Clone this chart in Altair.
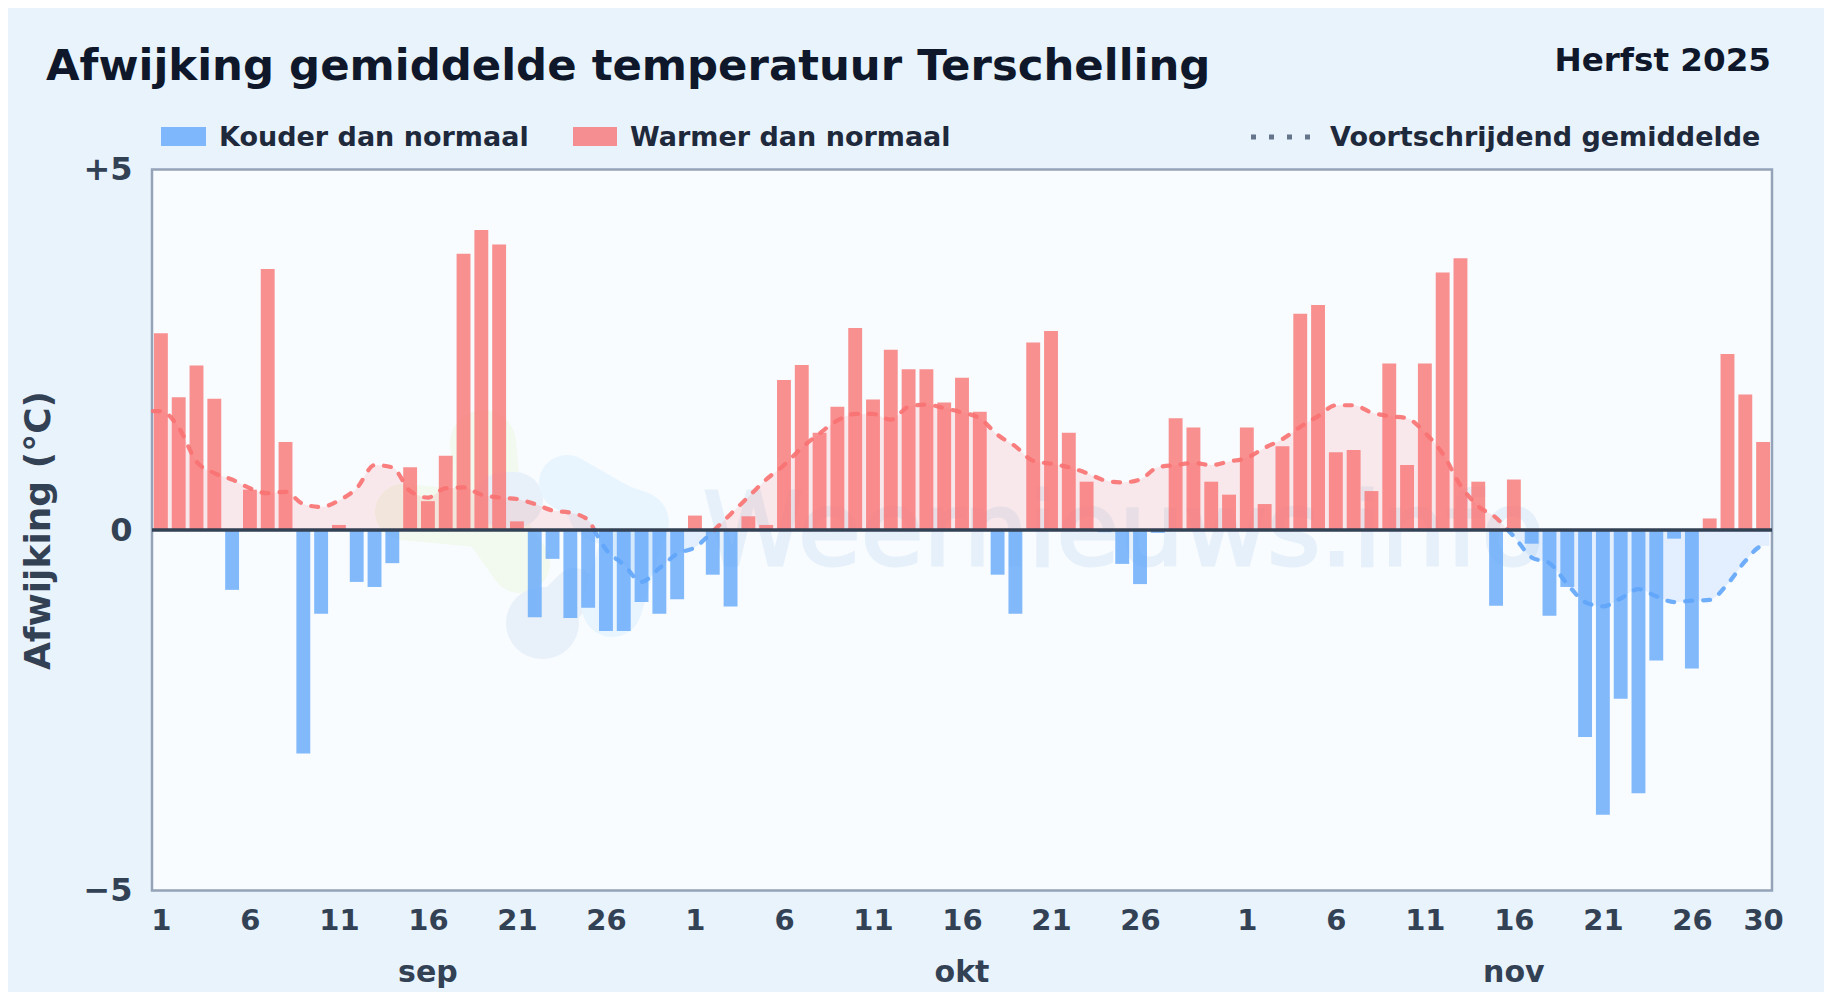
import altair as alt
import pandas as pd

# ---- values -----------------------------------------------------------------
sep_dev = [2.73, 1.84, 2.28, 1.82, -0.83, 0.56, 3.62, 1.22, -3.10, -1.16,
           0.07, -0.72, -0.79, -0.46, 0.87, 0.40, 1.03, 3.83, 4.16, 3.96,
           0.12, -1.21, -0.40, -1.22, -1.08, -1.40, -1.40, -1.00, -1.16, -0.96]
oct_dev = [0.20, -0.62, -1.06, 0.19, 0.07, 2.08, 2.29, 1.35, 1.71, 2.80,
           1.81, 2.50, 2.23, 2.23, 1.77, 2.11, 1.64, -0.62, -1.16, 2.60,
           2.76, 1.35, 0.67, -0.03, -0.47, -0.75, -0.04, 1.55, 1.42, 0.67, 0.49]
nov_dev = [1.42, 0.36, 1.16, 3.00, 3.12, 1.08, 1.11, 0.54, 2.31, 0.90,
           2.31, 3.57, 3.77, 0.67, -1.05, 0.70, -0.19, -1.19, -0.79, -2.87,
           -3.95, -2.34, -3.65, -1.81, -0.12, -1.92, 0.16, 2.44, 1.88, 1.22]

sep_avg = [1.65, 1.42, 0.95, 0.79, 0.70, 0.58, 0.51, 0.53, 0.36, 0.32,
           0.41, 0.58, 0.90, 0.87, 0.54, 0.45, 0.58, 0.59, 0.49, 0.45,
           0.43, 0.36, 0.27, 0.24, 0.14, -0.27, -0.48, -0.72, -0.53, -0.33]
oct_avg = [-0.24, -0.02, 0.22, 0.46, 0.70, 0.90, 1.14, 1.34, 1.52, 1.61,
           1.61, 1.53, 1.71, 1.74, 1.69, 1.63, 1.55, 1.32, 1.16, 0.96,
           0.92, 0.87, 0.79, 0.69, 0.66, 0.70, 0.87, 0.90, 0.93, 0.90, 0.95]
nov_avg = [1.00, 1.14, 1.26, 1.43, 1.58, 1.73, 1.73, 1.63, 1.58, 1.55,
           1.35, 1.06, 0.62, 0.33, 0.17, -0.09, -0.38, -0.46, -0.75, -1.00,
           -1.06, -0.95, -0.82, -0.92, -1.00, -0.98, -0.97, -0.75, -0.43, -0.22]

tick_pos = [0, 5, 10, 15, 20, 25, 30, 35, 40, 45, 50, 55,
            61, 66, 71, 76, 81, 86, 90]
tick_txt = ["1", "6", "11", "16", "21", "26", "1", "6", "11", "16", "21", "26",
            "1", "6", "11", "16", "21", "26", "30"]
months = ["sep", "okt", "nov"]
month_pos = [15, 45, 76]

BG, PLOT = "#e8f3fc", "#f8fcff"
RED, BLUE = "#f87171", "#60a5fa"
W, H = 1620, 721
LEFT, TOP = 152, 169.5

deviation = sep_dev + oct_dev + nov_dev
average = sep_avg + oct_avg + nov_avg

bars = pd.DataFrame({"i": range(len(deviation)), "v": deviation})
bars["a"] = bars.i - 0.39
bars["b"] = bars.i + 0.39
bars["kind"] = ["warm" if v > 0 else "cold" for v in bars.v]

# split the running mean where it crosses zero so each part gets its colour
pts, seg = [], 0
xs = [-0.45] + list(range(len(average))) + [90.35]
ys = [average[0]] + average + [average[-1]]
for k, (x, y) in enumerate(zip(xs, ys)):
    if k and (ys[k - 1] > 0) != (y > 0):
        cx = xs[k - 1] + (x - xs[k - 1]) * ys[k - 1] / (ys[k - 1] - y)
        pts.append((cx, 0.0, seg))
        seg += 1
        pts.append((cx, 0.0, seg))
    pts.append((x, y, seg))
avg = pd.DataFrame(pts, columns=["i", "v", "seg"])
avg["kind"] = avg.groupby("seg").v.transform(lambda s: "warm" if s.sum() > 0 else "cold")

x_scale = alt.Scale(domain=[-0.5, 90.5], range=[0, W], nice=False, zero=False)
y_scale = alt.Scale(domain=[-5, 5], nice=False)
colors = alt.Scale(domain=["warm", "cold"], range=[RED, BLUE])
label_expr = "%s[indexof(%s, datum.value)]" % (tick_txt, tick_pos)

font = "DejaVu Sans"
one = pd.DataFrame({"t": [0]})

x_axis = alt.Axis(values=tick_pos, labelExpr=label_expr, title=None, grid=False,
                  domain=False, ticks=False, labelFont=font, labelFontWeight="bold",
                  labelFontSize=29, labelColor="#334155", labelPadding=16,
                  labelBound=False, labelFlush=False, labelOverlap=False)
y_axis = alt.Axis(values=[-5, 0, 5], title="Afwijking (°C)", grid=False, domain=False,
                  ticks=False,
                  labelExpr="datum.value > 0 ? '+5' : datum.value < 0 ? '−5' : '0'",
                  labelFont=font, labelFontWeight="bold", labelFontSize=32,
                  labelColor="#334155", labelPadding=20, titleFont=font,
                  titleFontWeight="bold", titleFontSize=36, titleColor="#334155",
                  titleX=57 - LEFT, titleY=H / 2)


# ---- faint site watermark behind the data ------------------------------------
def capsule(x1, y1, x2, y2, w, color):
    return alt.Chart(one).mark_rule(strokeCap="round", color=color, strokeWidth=w).encode(
        x=alt.value(x1 - LEFT), x2=alt.value(x2 - LEFT),
        y=alt.value(y1 - TOP), y2=alt.value(y2 - TOP))


GREEN_WM, SKY_WM, GREY_WM = "#f2f9ee", "#e8f5fe", "#e8f0f9"
logo_marks = [
    capsule(483, 443, 490, 520, 66, GREEN_WM),
    capsule(403, 512, 490, 520, 56, GREEN_WM),
    capsule(490, 520, 520, 563, 60, GREEN_WM),
    capsule(503, 500, 515, 500, 56, GREY_WM),
    capsule(542, 623, 575, 590, 44, GREY_WM),
    capsule(542, 623, 543, 623, 72, GREY_WM),
    capsule(567, 483, 637, 523, 56, SKY_WM),
    capsule(600, 510, 637, 523, 64, SKY_WM),
    capsule(637, 523, 612, 607, 60, SKY_WM),
]
wm = alt.Chart(pd.DataFrame({"t": ["Weernieuws.info"]})).mark_text(
    font=font, fontSize=102, align="left", baseline="alphabetic", color="#e6f0fa",
    stroke="#e6f0fa", strokeWidth=3
).encode(x=alt.value(703 - LEFT), y=alt.value(565 - TOP), text="t:N")

# ---- data layers -------------------------------------------------------------
bar = alt.Chart(bars).mark_rect(opacity=0.78).encode(
    x=alt.X("a:Q", scale=x_scale, axis=x_axis),
    x2="b:Q",
    y=alt.Y("v:Q", scale=y_scale, axis=y_axis),
    y2=alt.datum(0),
    color=alt.Color("kind:N", scale=colors, legend=None),
)
area = alt.Chart(avg).mark_area(opacity=0.14, interpolate="monotone").encode(
    x=alt.X("i:Q", scale=x_scale, axis=x_axis),
    y=alt.Y("v:Q", scale=y_scale, axis=y_axis),
    y2=alt.datum(0),
    color=alt.Color("kind:N", scale=colors, legend=None),
    detail="seg:N",
)
line = alt.Chart(avg).mark_line(strokeWidth=4.2, opacity=0.9, strokeDash=[7, 11],
                                strokeCap="round", interpolate="monotone").encode(
    x=alt.X("i:Q", scale=x_scale, axis=x_axis),
    y=alt.Y("v:Q", scale=y_scale, axis=y_axis),
    color=alt.Color("kind:N", scale=colors, legend=None),
    detail="seg:N",
)
zero = alt.Chart(pd.DataFrame({"z": [0]})).mark_rule(color="#334155", strokeWidth=3.6).encode(
    y=alt.Y("z:Q", scale=y_scale, axis=y_axis)
)
month_text = alt.Chart(pd.DataFrame({"i": month_pos, "t": months})).mark_text(
    font=font, fontWeight="bold", fontSize=30, color="#334155", baseline="alphabetic"
).encode(x=alt.X("i:Q", scale=x_scale, axis=x_axis), y=alt.value(982 - TOP), text="t:N")


# ---- title and legend as text ------------------------------------------------
def label(txt, x, y, size, color, align="left", baseline="alphabetic"):
    return alt.Chart(pd.DataFrame({"t": [txt]})).mark_text(
        font=font, fontWeight="bold", fontSize=size, color=color, align=align, baseline=baseline
    ).encode(x=alt.value(x - LEFT), y=alt.value(y - TOP), text="t:N")


def swatch(x0, x1, color):
    return alt.Chart(one).mark_rect(color=color, opacity=0.78).encode(
        x=alt.value(x0 - LEFT), x2=alt.value(x1 - LEFT),
        y=alt.value(127 - TOP), y2=alt.value(146 - TOP))


key_line = alt.Chart(one).mark_rule(
    color="#64748b", strokeWidth=5, strokeDash=[5, 13]
).encode(x=alt.value(1251 - LEFT), x2=alt.value(1310 - LEFT), y=alt.value(137 - TOP))

chart = alt.layer(
    *logo_marks, wm, area, bar, line, zero, month_text,
    label("Afwijking gemiddelde temperatuur Terschelling", 46, 80, 43.4, "#0f172a"),
    label("Herfst 2025", 1771, 71, 32.6, "#0f172a", align="right"),
    swatch(161, 206, BLUE), label("Kouder dan normaal", 219, 146, 27, "#1e293b"),
    swatch(573, 617, RED), label("Warmer dan normaal", 630, 146, 27, "#1e293b"),
    key_line, label("Voortschrijdend gemiddelde", 1330, 146, 27, "#1e293b"),
).properties(
    width=W, height=H, background=BG,
    padding={"left": LEFT - 8, "top": TOP - 8, "right": 1816 - (LEFT - 8) - W,
             "bottom": 984 - (TOP - 8) - H},
    autosize=alt.AutoSizeParams(type="none"),
).configure_view(fill=PLOT, stroke="#94a3b8", strokeWidth=2.5)

chart.save("out.html", embed_options={"renderer": "svg", "actions": False})
